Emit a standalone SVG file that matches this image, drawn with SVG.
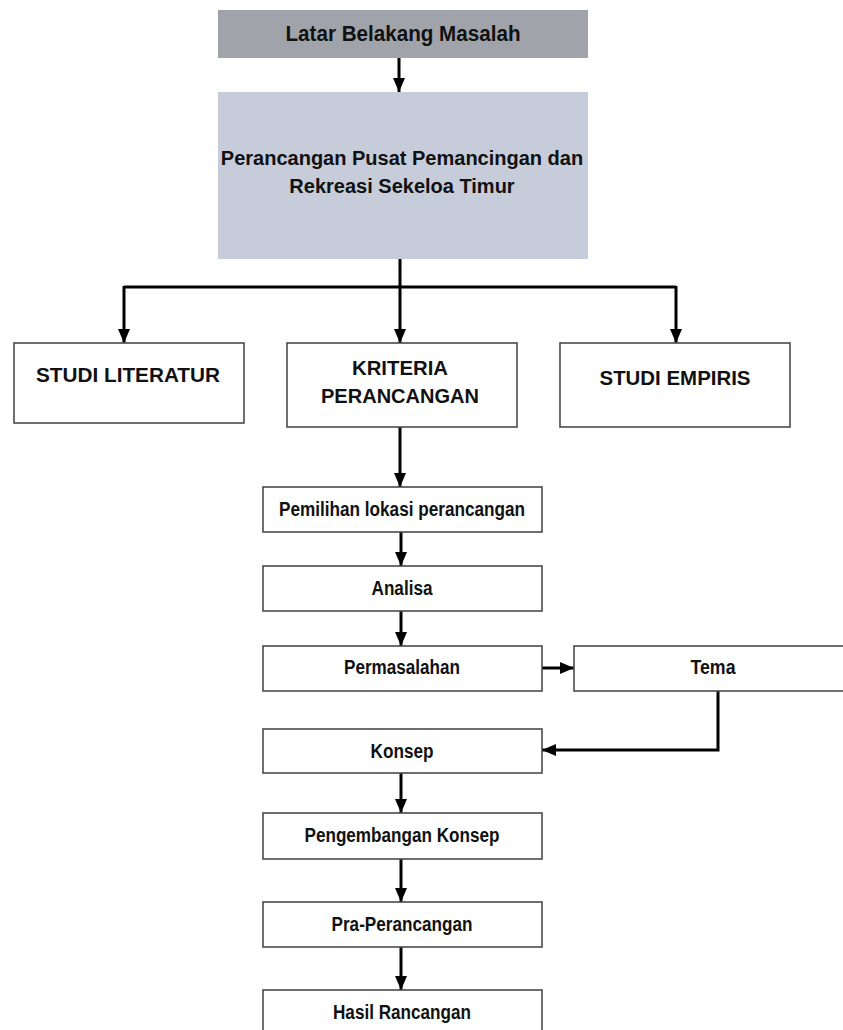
<svg xmlns="http://www.w3.org/2000/svg" width="843" height="1030" viewBox="0 0 843 1030">
<defs>
<marker id="ah" markerUnits="userSpaceOnUse" markerWidth="14" markerHeight="14" viewBox="0 0 14 14" refX="14" refY="7" orient="auto">
<path d="M0,1 L14,7 L0,13 Z" fill="#000"/>
</marker>
<style>
.box{fill:#fff;stroke:#4a4a4a;stroke-width:1.6}
.top{fill:#a0a4aa;stroke:none}
.main{fill:#c6ccd9;stroke:none}
.c{fill:none;stroke:#000;stroke-width:3}
.t{font-family:"Liberation Sans",Arial,sans-serif;font-weight:bold;fill:#111;text-anchor:middle}
.big{font-size:22px}
.mid{font-size:20px}
.cap{font-size:21px}
.sm{font-size:19.5px}
</style>
</defs>
<rect width="843" height="1030" fill="#fff"/>

<g id="connectors">
<line class="c" x1="399" y1="58" x2="399" y2="92" marker-end="url(#ah)"/>
<line class="c" x1="400" y1="259" x2="400" y2="287"/>
<line class="c" x1="124" y1="287" x2="676" y2="287"/>
<line class="c" x1="124" y1="286" x2="124" y2="343" marker-end="url(#ah)"/>
<line class="c" x1="400" y1="287" x2="400" y2="343" marker-end="url(#ah)"/>
<line class="c" x1="676" y1="286" x2="676" y2="343" marker-end="url(#ah)"/>
<line class="c" x1="400" y1="427" x2="400" y2="487" marker-end="url(#ah)"/>
<line class="c" x1="401" y1="532" x2="401" y2="566" marker-end="url(#ah)"/>
<line class="c" x1="401" y1="611" x2="401" y2="646" marker-end="url(#ah)"/>
<line class="c" x1="542" y1="668" x2="574" y2="668" marker-end="url(#ah)"/>
<polyline class="c" points="718,691 718,750 542,750" marker-end="url(#ah)"/>
<line class="c" x1="401" y1="773" x2="401" y2="813" marker-end="url(#ah)"/>
<line class="c" x1="401" y1="859" x2="401" y2="902" marker-end="url(#ah)"/>
<line class="c" x1="401" y1="947" x2="401" y2="990" marker-end="url(#ah)"/>
</g>

<g id="latar">
<rect class="top" x="218" y="10" width="370" height="48"/>
<text class="t big" x="403" y="41" textLength="235" lengthAdjust="spacingAndGlyphs">Latar Belakang Masalah</text>
</g>

<g id="perancangan">
<rect class="main" x="218" y="92" width="370" height="167"/>
<text class="t mid" x="402" y="165">Perancangan Pusat Pemancingan dan</text>
<text class="t mid" x="402" y="193">Rekreasi Sekeloa Timur</text>
</g>

<g id="studi-literatur">
<rect class="box" x="14" y="343" width="230" height="80"/>
<text class="t cap" x="128" y="382" textLength="184" lengthAdjust="spacingAndGlyphs">STUDI LITERATUR</text>
</g>

<g id="kriteria">
<rect class="box" x="287" y="343" width="230" height="84"/>
<text class="t cap" x="400" y="375" textLength="96" lengthAdjust="spacingAndGlyphs">KRITERIA</text>
<text class="t cap" x="400" y="403" textLength="158" lengthAdjust="spacingAndGlyphs">PERANCANGAN</text>
</g>

<g id="studi-empiris">
<rect class="box" x="560" y="343" width="230" height="84"/>
<text class="t cap" x="675" y="385" textLength="151" lengthAdjust="spacingAndGlyphs">STUDI EMPIRIS</text>
</g>

<g id="pemilihan">
<rect class="box" x="263" y="487" width="279" height="45"/>
<text class="t sm" x="402" y="516" textLength="246" lengthAdjust="spacingAndGlyphs">Pemilihan lokasi perancangan</text>
</g>

<g id="analisa">
<rect class="box" x="263" y="566" width="279" height="45"/>
<text class="t sm" x="402" y="595" textLength="61" lengthAdjust="spacingAndGlyphs">Analisa</text>
</g>

<g id="permasalahan">
<rect class="box" x="263" y="646" width="279" height="45"/>
<text class="t sm" x="402" y="674" textLength="116" lengthAdjust="spacingAndGlyphs">Permasalahan</text>
</g>

<g id="tema">
<rect class="box" x="574" y="646" width="279" height="45"/>
<text class="t sm" x="713" y="674" textLength="45" lengthAdjust="spacingAndGlyphs">Tema</text>
</g>

<g id="konsep">
<rect class="box" x="263" y="729" width="279" height="44"/>
<text class="t sm" x="402" y="758" textLength="63" lengthAdjust="spacingAndGlyphs">Konsep</text>
</g>

<g id="pengembangan">
<rect class="box" x="263" y="813" width="279" height="46"/>
<text class="t sm" x="402" y="842" textLength="195" lengthAdjust="spacingAndGlyphs">Pengembangan Konsep</text>
</g>

<g id="pra">
<rect class="box" x="263" y="902" width="279" height="45"/>
<text class="t sm" x="402" y="931" textLength="141" lengthAdjust="spacingAndGlyphs">Pra-Perancangan</text>
</g>

<g id="hasil">
<rect class="box" x="263" y="990" width="279" height="45"/>
<text class="t sm" x="402" y="1019" textLength="138" lengthAdjust="spacingAndGlyphs">Hasil Rancangan</text>
</g>
</svg>
